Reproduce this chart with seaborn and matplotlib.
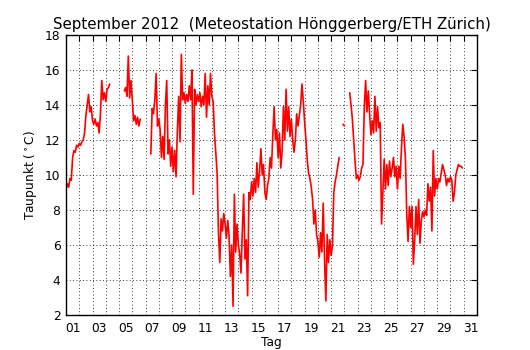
"""Taupunkt September 2012, Meteostation Hönggerberg (ETH Zürich)."""
import matplotlib

matplotlib.use("Agg")

import matplotlib.pyplot as plt
import numpy as np
import pandas as pd
import seaborn as sns

nan = np.nan

# dew point in degC, one value every 0.1 day starting at Sept 1 00:00
taupunkt = [
    9.2, 9.5, 9.3, 9.8, 9.7, 11.0, 11.4, 11.3, 11.7, 11.6,        # 1
    11.8, 11.7, 11.9, 12.0, 12.4, 13.4, 14.0, 14.6, 13.6, 13.9,   # 2
    13.1, 12.9, 13.2, 12.8, 13.0, 12.4, 13.5, 15.4, 14.3, 14.7,   # 3
    14.2, 14.9, 15.0, 15.2, nan, nan, nan, nan, nan, nan,         # 4
    nan, nan, nan, nan, 14.8, 15.0, 14.5, 16.8, 14.4, 15.4,       # 5
    14.3, 13.1, 13.4, 12.9, 13.3, 12.8, 13.2, nan, nan, nan,      # 6
    nan, nan, nan, nan, 11.2, 13.8, 13.5, 14.3, 15.8, 12.8,       # 7
    13.2, 12.6, 11.0, 12.2, 10.9, 14.0, 15.4, 11.2, 12.0, 10.5,   # 8
    11.6, 10.2, 11.4, 9.9, 12.5, 14.5, 11.9, 16.9, 14.3, 14.7,    # 9
    14.1, 14.6, 14.2, 15.1, 14.3, 16.0, 8.9, 14.9, 14.0, 14.6,    # 10
    14.2, 14.7, 13.9, 14.5, 14.0, 15.8, 13.3, 15.1, 14.0, 15.8,   # 11
    14.5, 14.2, 12.4, 11.2, 10.1, 6.7, 5.0, 7.5, 6.8, 7.8,        # 12
    7.2, 6.4, 7.4, 6.5, 4.2, 6.0, 2.5, 8.9, 5.6, 7.2,             # 13
    6.0, 5.5, 4.4, 6.8, 8.9, 5.2, 6.3, 3.1, 9.0, 8.6,             # 14
    9.6, 8.8, 9.8, 9.0, 10.7, 9.3, 10.2, 11.5, 10.0, 10.6,        # 15
    9.0, 8.6, 9.4, 9.8, 11.0, 10.4, 12.3, 13.9, 12.0, 12.6,       # 16
    11.0, 12.4, 10.4, 11.3, 13.9, 12.0, 14.9, 12.5, 13.9, 12.2,   # 17
    13.2, 12.0, 11.3, 12.0, 13.5, 12.8, 13.4, 14.0, 15.2, 14.2,   # 18
    13.0, 12.0, 10.8, 10.1, 9.8, 9.3, 8.6, 7.2, 8.0, 6.6,         # 19
    6.2, 5.3, 6.7, 5.6, 8.4, 5.2, 2.8, 6.6, 5.0, 6.3,             # 20
    5.4, 6.0, 9.0, 9.6, 10.0, 10.5, 11.0, nan, nan, 12.9,         # 21
    12.8, nan, nan, nan, 14.7, 14.0, 13.2, 12.0, 10.8, 9.8,       # 22
    10.0, 9.7, 9.9, 10.4, 10.6, 13.9, 15.4, 13.6, 14.8, 13.5,     # 23
    12.3, 13.1, 12.4, 14.5, 12.5, 13.9, 12.7, 13.0, 7.2, 9.0,     # 24
    10.9, 9.2, 10.6, 9.4, 10.8, 9.9, 10.4, 11.0, 9.9, 10.5,       # 25
    9.2, 10.5, 9.8, 11.5, 12.9, 12.2, 11.0, 7.8, 6.2, 8.2,        # 26
    7.0, 8.2, 4.9, 6.3, 8.2, 6.6, 8.6, 6.1, 7.4, 7.9,             # 27
    7.6, 8.0, 7.7, 9.5, 8.5, 9.3, 6.8, 11.4, 8.8, 9.8,            # 28
    9.2, 9.8, 9.6, 10.1, 10.6, 10.3, 10.0, 9.4, 9.8, 9.6,         # 29
    9.9, 9.7, 8.5, 9.0, 10.0, 10.3, 10.6, 10.5, 10.5, 10.4,       # 30
]
tag = 1 + 0.1 * np.arange(len(taupunkt))

tag_labels = ["%02d" % d for d in range(1, 32, 2)]
y_ticks = list(range(2, 19, 2))

df = pd.DataFrame({"tag": tag, "taupunkt": taupunkt})
# split at missing values so the line shows gaps
df["seg"] = df["taupunkt"].isna().cumsum()
df = df.dropna()

sns.set_style("white", {"text.color": "black", "axes.labelcolor": "black",
                        "xtick.color": "black", "ytick.color": "black"})
plt.rcParams["font.family"] = ["DejaVu Sans"]

fig = plt.figure(figsize=(5.3, 3.5), dpi=100)
ax = fig.add_axes([0.1245, 0.1, 0.7755, 0.8])

sns.lineplot(data=df, x="tag", y="taupunkt", units="seg", estimator=None,
             color="red", lw=1.2, ax=ax)

ax.set_xlim(1, 32)
ax.set_ylim(2, 18)
ax.set_xticks(range(2, 32))
ax.set_xticklabels([])
ax.set_xticks([d + 0.5 for d in range(1, 32, 2)], minor=True)
ax.set_xticklabels(tag_labels, minor=True)
ax.set_yticks(y_ticks)
ax.tick_params(which="major", direction="in", length=4, width=0.8,
               top=True, right=True, color="black", labelsize=8.8)
ax.tick_params(which="minor", length=0, labelsize=8.8, pad=5)
ax.tick_params(axis="y", pad=4)
ax.grid(True, which="major", color="black", linestyle=(0, (1, 3)),
        linewidth=0.6)

for sp in ax.spines.values():
    sp.set_color("black")
    sp.set_linewidth(1.0)

ax.set_xlabel("Tag", fontsize=8.8, labelpad=1)
ax.set_ylabel("Taupunkt ($^\\circ$C)", fontsize=8.8, labelpad=4)
ax.set_title("September 2012  (Meteostation Hönggerberg/ETH Zürich)",
             fontsize=10.8, pad=4)

fig.savefig("out.png", dpi=100, facecolor="white")
plt.close(fig)
